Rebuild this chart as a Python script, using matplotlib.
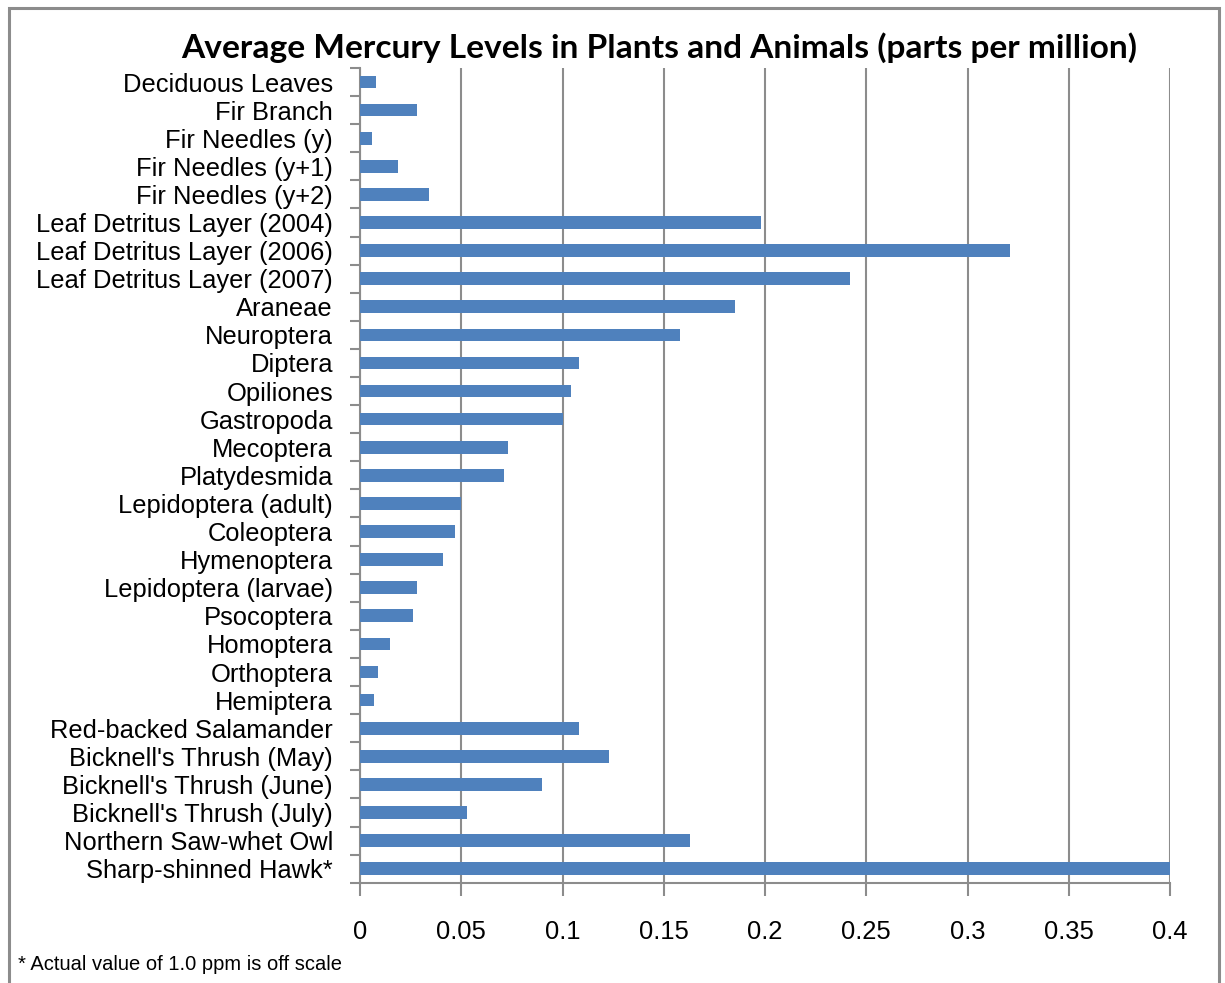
import matplotlib
matplotlib.use("Agg")
import matplotlib.pyplot as plt
from matplotlib.patches import Rectangle
from matplotlib import font_manager as fm

categories = [
    "Deciduous Leaves", "Fir Branch", "Fir Needles (y)", "Fir Needles (y+1)",
    "Fir Needles (y+2)", "Leaf Detritus Layer (2004)", "Leaf Detritus Layer (2006)",
    "Leaf Detritus Layer (2007)", "Araneae", "Neuroptera", "Diptera", "Opiliones",
    "Gastropoda", "Mecoptera", "Platydesmida", "Lepidoptera (adult)", "Coleoptera",
    "Hymenoptera", "Lepidoptera (larvae)", "Psocoptera", "Homoptera", "Orthoptera",
    "Hemiptera", "Red-backed Salamander", "Bicknell's Thrush (May)",
    "Bicknell's Thrush (June)", "Bicknell's Thrush (July)", "Northern Saw-whet Owl",
    "Sharp-shinned Hawk*",
]
values = [
    0.008, 0.028, 0.006, 0.019, 0.034, 0.198, 0.321, 0.242, 0.185, 0.158,
    0.108, 0.104, 0.100, 0.073, 0.071, 0.050, 0.047, 0.041, 0.028, 0.026,
    0.015, 0.009, 0.007, 0.108, 0.123, 0.090, 0.053, 0.163, 1.0,
]
xticks = [0, 0.05, 0.1, 0.15, 0.2, 0.25, 0.3, 0.35, 0.4]
xticklabels = ["0", "0.05", "0.1", "0.15", "0.2", "0.25", "0.3", "0.35", "0.4"]

names = {f.name for f in fm.fontManager.ttflist}
narrow = "Liberation Sans Narrow" if "Liberation Sans Narrow" in names else "Liberation Sans"

W, H = 1225, 983
fig = plt.figure(figsize=(W / 100, H / 100), dpi=100)
fig.patch.set_facecolor("white")

# outer border
fig.add_artist(Rectangle((9 / W, -0.01), (1219 - 9) / W, 1.01 - 8 / H,
                         transform=fig.transFigure, fill=False,
                         edgecolor="#8c8c8c", linewidth=2.2))

ax = fig.add_axes([360 / W, 100.3 / H, 810 / W, 814.7 / H])
n = len(categories)
ypos = list(range(n))
ax.barh(ypos, values, height=0.45, color="#4f81bd", edgecolor="none", zorder=3)
ax.set_ylim(n - 0.5, -0.5)
ax.set_xlim(0, 0.4)

ax.set_yticks(ypos)
ax.set_yticklabels(categories, fontfamily=narrow, fontsize=18.4)
ax.tick_params(axis="y", which="major", length=0, pad=19.5)
ax.set_yticks([i - 0.5 for i in range(n + 1)], minor=True)
ax.tick_params(axis="y", which="minor", length=7.5, width=1.5, color="#8c8c8c")

ax.set_xticks(xticks)
ax.set_xticklabels(xticklabels, fontfamily=narrow, fontsize=18.4)
ax.tick_params(axis="x", length=9, width=1.5, color="#8c8c8c", pad=18)

ax.grid(axis="x", color="#8c8c8c", linewidth=1.5, zorder=0)
for s in ["top", "right"]:
    ax.spines[s].set_visible(False)
for s in ["left", "bottom"]:
    ax.spines[s].set_color("#8c8c8c")
    ax.spines[s].set_linewidth(1.5)

fig.text(659 / W, 1 - 48 / H, "Average Mercury Levels in Plants and Animals (parts per million)",
         ha="center", va="center", fontfamily="Lato", fontweight="bold", fontsize=24.1)

fig.text(18 / W, 1 - 965 / H, "* Actual value of 1.0 ppm is off scale",
         ha="left", va="center", fontfamily=narrow, fontsize=14.5)

fig.savefig("out.png", dpi=100)
